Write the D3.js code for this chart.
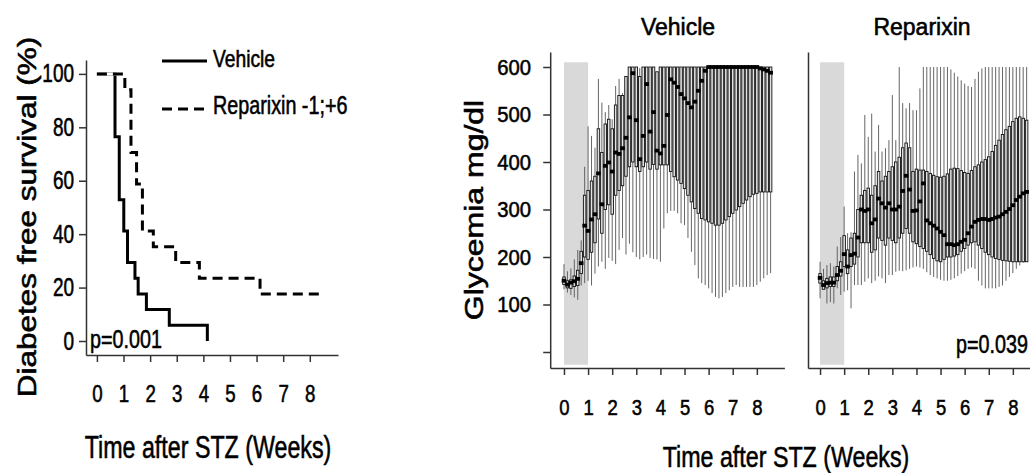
<!DOCTYPE html>
<html>
<head>
<meta charset="utf-8">
<script src="https://cdn.jsdelivr.net/npm/d3@7/dist/d3.min.js"></script>
<style>
  body { margin: 0; background: #fff; }
  svg text { font-family: "Liberation Sans", Arial, sans-serif; fill: #000; stroke: #000; stroke-width: 0.55px; }
  .axis path, .axis line { stroke: #333; stroke-width: 1.5; }
</style>
</head>
<body>
<div id="chart"></div>
<script>

// ---- diabetes free survival (Kaplan-Meier), weeks after STZ ----
var vehTimes = [0, 0.68, 0.84, 1.01, 1.15, 1.43, 1.55, 1.86, 2.72, 4.15];
var vehSurv  = [100, 76.5, 52.9, 41.2, 29.4, 23.5, 17.6, 11.8, 5.9, 0];
var repTimes = [0, 1.05, 1.28, 1.49, 1.71, 2.12, 2.96, 3.85, 6.13, 8.53];
var repSurv  = [100, 94.1, 70.6, 58.8, 41.2, 35.3, 29.4, 23.5, 17.6, 17.6];

var weekTicks = [0, 1, 2, 3, 4, 5, 6, 7, 8];
var survTicks = [0, 20, 40, 60, 80, 100];
var glyTicks  = [0, 100, 200, 300, 400, 500, 600];

// ---- glycemia (mg/dl) per day: median, box (q1-q3), whiskers (lo-hi) ----
var days = [0,1,2,3,4,5,6,7,8,9,10,11,12,13,14,15,16,17,18,19,20,21,22,23,24,25,26,27,28,29,
            30,31,32,33,34,35,36,37,38,39,40,41,42,43,44,45,46,47,48,49,50,51,52,53,54,55,56,57,58,59,60];

var vehMean = [150,142,146,149,154,187,266,255,279,290, 376,311,392,399,380,420,417,429,451,494,
               587,488,406,455,564,464,505,424,418,434, 499,574,567,558,543,534,524,515,527,550,
               571,592,600,600,600,600,600,600,600,600, 600,600,600,600,600,600,600,597,595,592, 588];
var vehHi   = [185,170,176,195,215,235,390,475,455,430, 575,525,505,520,490,560,575,545,580,600,
               600,600,598,600,600,590,600,580,585,600, 600,600,600,600,600,600,600,600,600,600,
               600,600,600,600,600,600,600,600,600,600, 600,600,600,600,600,600,600,600,600,600, 600];
var vehQ3   = [158,150,152,160,172,212,330,340,360,370, 470,420,480,490,470,520,540,540,580,600,
               600,600,580,600,600,600,600,590,600,600, 600,600,600,600,600,600,600,600,600,600,
               600,600,600,600,600,600,600,600,600,600, 600,600,600,600,600,600,600,600,600,600, 600];
var vehQ1   = [142,135,134,138,140,165,200,195,210,230, 280,250,300,310,290,330,340,350,370,390,
               400,390,380,390,400,385,395,385,394,394, 394,380,369,362,355,344,330,316,302,292,
               281,278,274,271,267,267,271,278,285,292, 299,306,313,320,327,332,334,337,337,337, 337];
var vehLo   = [132,125,120,115,110,140,145,150,140,165, 180,190,175,198,192,185,215,240,205,228,
               210,200,195,200,205,198,196,195,190,260, 292,297,297,292,271,267,240,211,183,155,
               145,141,134,124,116,113,116,124,130,137, 141,137,137,137,137,137,141,148,155,162, 166];

var repMean = [156,141,145,146,146,162,171,206,180,204, 207,241,300,297,300,271,279,323,313,304,
               313,300,300,306,339,371,342,297,298,317, 355,277,271,266,260,253,246,227,227,225,
               227,232,236,250,264,274,278,280,280,278, 280,283,285,290,295,301,309,320,327,334, 337];
var repHi   = [190,175,183,187,180,222,242,306,250,252, 380,415,397,499,453,502,422,478,422,429,
               446,541,446,600,524,513,524,509,509,555, 600,600,600,600,600,600,600,600,595,588,
               580,572,565,560,558,575,590,597,600,600, 600,600,600,600,600,600,600,600,600,600, 600];
var repQ3   = [165,150,155,158,158,180,190,245,215,240, 250,300,330,340,345,330,350,380,360,370,
               380,390,400,410,430,440,430,380,385,383, 383,380,376,372,369,368,370,375,385,387,
               386,382,378,376,382,390,394,400,405,411, 422,435,446,458,468,475,485,492,495,492, 488];
var repQ1   = [145,132,135,138,138,150,160,180,165,180, 185,200,230,230,230,210,215,240,235,225,
               240,235,230,240,250,260,250,232,228,222, 218,212,205,197,192,190,195,200,200,202,
               205,212,218,225,230,232,225,218,210,205, 200,197,195,193,192,191,190,190,190,190, 190];
var repLo   = [113,134,102,105,102,134,120,127,130,92, 141,141,141,148,155,145,150,159,155,145,
               162,162,169,171,170,172,175,178,180,178, 175,168,162,158,155,152,150,150,152,155,
               160,165,170,175,178,175,150,140,134,134, 134,134,137,140,150,158,166,175,182,188, 190];

// STZ treatment window (weeks)
var shadeWeeks = [0, 1];


var W = 1030, H = 473;

var svg = d3.select("#chart").append("svg")
    .attr("width", W)
    .attr("height", H);

svg.append("rect").attr("width", W).attr("height", H).attr("fill", "#fff");

// text squeezed / stretched along its length (the source figure is not 1:1)
function addText(sel, str, x, y, size, stretch, anchor){
    return sel.append("text")
        .attr("transform", "translate(" + x + "," + y + ") scale(" + stretch + ",1)")
        .attr("text-anchor", anchor || "start")
        .style("font-size", size + "px")
        .text(str);
}

function addVText(sel, str, x, y, size, stretch){
    return sel.append("text")
        .attr("transform", "translate(" + x + "," + y + ") rotate(-90) scale(" + stretch + ",1)")
        .attr("text-anchor", "middle")
        .style("font-size", size + "px")
        .text(str);
}

function squeezeLeftLabels(g, size, stretch, offset){
    g.selectAll(".tick text")
        .attr("x", -offset / stretch)
        .attr("transform", "scale(" + stretch + ",1)")
        .style("font-size", size + "px");
}

function squeezeBottomLabels(g, size, stretch){
    g.selectAll(".tick text")
        .attr("transform", "scale(" + stretch + ",1)")
        .style("font-size", size + "px");
}


// ================= survival panel =================
function drawSurvival(){

    var x = d3.scaleLinear().domain([-0.41, 9.06]).range([86, 338]);
    var y = d3.scaleLinear().domain([-5.24, 105.2]).range([355, 60]);

    var g = svg.append("g");

    var xAxis = g.append("g")
        .attr("class", "axis")
        .attr("transform", "translate(0," + y.range()[0] + ")")
        .call(d3.axisBottom(x).tickValues(weekTicks).tickSize(7).tickSizeOuter(0).tickPadding(23));
    squeezeBottomLabels(xAxis, 24, 0.78);

    var yAxis = g.append("g")
        .attr("class", "axis")
        .attr("transform", "translate(" + x.range()[0] + ",0)")
        .call(d3.axisLeft(y).tickValues(survTicks).tickSize(7).tickSizeOuter(0));
    squeezeLeftLabels(yAxis, 25, 0.76, 12);

    var line = d3.line()
        .x(function(d){ return x(d[0]); })
        .y(function(d){ return y(d[1]); })
        .curve(d3.curveStepAfter);

    var veh = d3.zip(vehTimes, vehSurv);
    var rep = d3.zip(repTimes, repSurv);

    g.append("path")
        .attr("d", line(veh))
        .attr("fill", "none")
        .attr("stroke", "#000")
        .attr("stroke-width", 3);

    // white under the dashes so the overlap at 100% reads as dashed
    g.append("path")
        .attr("d", line(rep))
        .attr("fill", "none")
        .attr("stroke", "#fff")
        .attr("stroke-width", 3);

    g.append("path")
        .attr("d", line(rep))
        .attr("fill", "none")
        .attr("stroke", "#000")
        .attr("stroke-width", 3)
        .attr("stroke-dasharray", "10,6");

    // legend
    g.append("line").attr("x1", 162).attr("x2", 207).attr("y1", 61).attr("y2", 61)
        .attr("stroke", "#000").attr("stroke-width", 3);
    addText(g, "Vehicle", 213, 67, 23.5, 0.82);

    g.append("line").attr("x1", 162).attr("x2", 206).attr("y1", 109).attr("y2", 109)
        .attr("stroke", "#000").attr("stroke-width", 3).attr("stroke-dasharray", "10,6");
    addText(g, "Reparixin -1;+6", 213, 114, 25, 0.79);

    addText(g, "p=0.001", 90, 348, 25, 0.79);

    addVText(g, "Diabetes free survival (%)", 36, 217, 25, 1.26);
    addText(g, "Time after STZ (Weeks)", 208, 458, 31, 0.75, "middle");
}


// ================= glycemia panels =================
GlycemiaPanel = function(opts){
    this.opts = opts;
    this.x = d3.scaleLinear().domain(opts.dayDomain).range(opts.xRange);
    this.y = d3.scaleLinear().domain([-33.7, 631.6]).range([368, 52]);
    this.g = svg.append("g");
    this._draw_all();
};

GlycemiaPanel.prototype._draw_all = function(){
    this._draw_shade();
    this._draw_axes();
    this._draw_points();
    this._draw_title();
};

GlycemiaPanel.prototype._draw_shade = function(){
    var x = this.x, y = this.y;
    this.g.append("rect")
        .attr("x", x(shadeWeeks[0] * 7))
        .attr("width", x(shadeWeeks[1] * 7) - x(shadeWeeks[0] * 7))
        .attr("y", y(610))
        .attr("height", y(-27) - y(610))
        .attr("fill", "#d9d9d9");
};

GlycemiaPanel.prototype._draw_axes = function(){
    var x = this.x, y = this.y;

    var xAxis = this.g.append("g")
        .attr("class", "axis")
        .attr("transform", "translate(0," + y.range()[0] + ")")
        .call(d3.axisBottom(x)
            .tickValues(weekTicks.map(function(w){ return w * 7; }))
            .tickFormat(function(d){ return d / 7; })
            .tickSize(7).tickSizeOuter(0).tickPadding(24));
    squeezeBottomLabels(xAxis, 22, 0.84);

    var yAxis = this.g.append("g")
        .attr("class", "axis")
        .attr("transform", "translate(" + x.range()[0] + ",0)");

    if(this.opts.yLabels){
        yAxis.call(d3.axisLeft(y).tickValues(glyTicks)
            .tickFormat(function(d){ return d === 0 ? "" : d; })
            .tickSize(7).tickSizeOuter(0));
        squeezeLeftLabels(yAxis, 22.5, 0.9, 19.3);
    } else {
        yAxis.call(d3.axisLeft(y).tickValues([]).tickSizeOuter(0));
    }
};

GlycemiaPanel.prototype._draw_points = function(){
    var x = this.x, y = this.y, o = this.opts;
    var rows = days.map(function(d, i){
        return { day: d, mean: o.mean[i], hi: o.hi[i], lo: o.lo[i], q1: o.q1[i], q3: o.q3[i] };
    });

    var bw = 2.5;

    this.g.append("g").selectAll("line")
        .data(rows).enter().append("line")
        .attr("x1", function(d){ return x(d.day); })
        .attr("x2", function(d){ return x(d.day); })
        .attr("y1", function(d){ return y(d.hi); })
        .attr("y2", function(d){ return y(d.lo); })
        .attr("stroke", "#555")
        .attr("stroke-width", 0.9);

    this.g.append("g").selectAll("rect")
        .data(rows).enter().append("rect")
        .attr("x", function(d){ return x(d.day) - bw / 2; })
        .attr("width", bw)
        .attr("y", function(d){ return y(d.q3); })
        .attr("height", function(d){ return y(d.q1) - y(d.q3); })
        .attr("fill", "#e2e2e2")
        .attr("stroke", "#111")
        .attr("stroke-width", 0.9);

    this.g.append("g").selectAll("rect")
        .data(rows).enter().append("rect")
        .attr("x", function(d){ return x(d.day) - 2.3; })
        .attr("width", 4.6)
        .attr("y", function(d){ return y(d.mean) - 1.9; })
        .attr("height", 3.8)
        .attr("fill", "#000");
};

GlycemiaPanel.prototype._draw_title = function(){
    addText(this.g, this.opts.name, this.opts.titleX, 35, 23, 1.0, "middle");
    if(this.opts.pText){
        addText(this.g, this.opts.pText, 1028, 353, 25, 0.79, "end");
    }
};


drawSurvival();

new GlycemiaPanel({
    name: "Vehicle", titleX: 678,
    dayDomain: [-4, 64], xRange: [550.2, 784.4],
    mean: vehMean, hi: vehHi, lo: vehLo, q1: vehQ1, q3: vehQ3,
    yLabels: true
});

new GlycemiaPanel({
    name: "Reparixin", titleX: 922,
    dayDomain: [-3.5, 64], xRange: [808, 1040.4],
    mean: repMean, hi: repHi, lo: repLo, q1: repQ1, q3: repQ3,
    yLabels: false, pText: "p=0.039"
});

addVText(svg, "Glycemia mg/dl", 483, 210, 25, 1.28);
addText(svg, "Time after STZ (Weeks)", 786, 467, 30, 0.775, "middle");

</script>
</body>
</html>
